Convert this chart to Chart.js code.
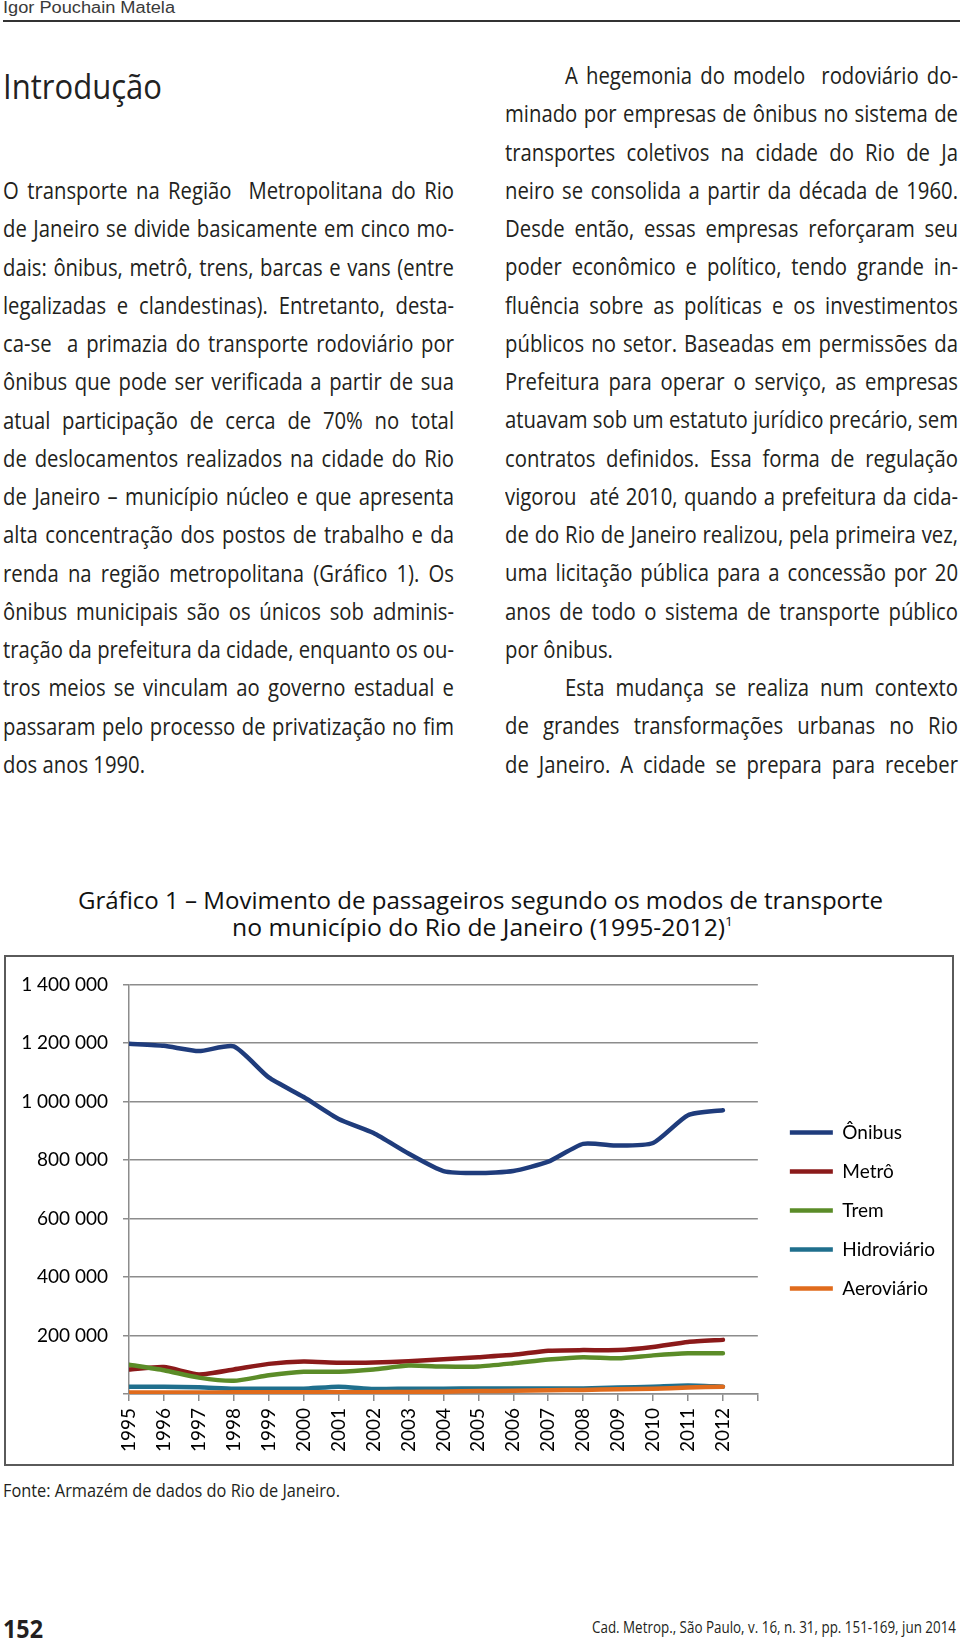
<!DOCTYPE html>
<html lang="pt-BR">
<head>
<meta charset="utf-8">
<title>Gráfico 1 – Movimento de passageiros</title>
<script src="https://cdn.jsdelivr.net/npm/chart.js@4.4.1/dist/chart.umd.min.js"></script>
<style>
  html, body { margin: 0; padding: 0; background: #fff; }
  body { position: relative; width: 960px; height: 1641px; overflow: hidden; color: #231f20; }
  .narrow { font-family: "Open Sans", "Noto Sans", sans-serif; }
  .fit { display: inline-block; white-space: pre; transform-origin: 0 0; }
  #author { position: absolute; left: 3px; top: 0; font: 16px/16px "Liberation Sans", Arial, sans-serif; color: #3a3a3a; }
  #rule { position: absolute; left: 3px; top: 19.5px; width: 957px; border-top: 2px solid #333; }
  #intro { position: absolute; left: 3px; top: 68px; font-size: 35px; line-height: 35px; color: #222; }
  .col { position: absolute; font-size: 23.5px; line-height: 38.25px; transform-origin: 0 0; }
  .col div { height: 38.25px; white-space: pre; }
  #left { left: 3px; top: 171px; width: 451px; }
  #right { left: 505px; top: 56px; width: 453px; }
  .tl { position: absolute; font: 23px/27px "Open Sans", sans-serif; color: #111; }
  .tl sup { font-size: 13px; vertical-align: 10px; line-height: 0; }
  #frame { position: absolute; left: 4px; top: 955px; width: 946px; height: 507px; border: 2px solid #5a5a5a; }
  #box { position: absolute; left: 7px; top: 958px; width: 944px; height: 505px; }
  #source { position: absolute; left: 3px; top: 1479px; font-size: 18px; line-height: 22px; }
  #page { position: absolute; left: 3px; top: 1613px; font-size: 25px; line-height: 30px; font-weight: bold; }
  #cite { position: absolute; left: 592px; top: 1616px; font-size: 17px; line-height: 22px; }
</style>
</head>
<body>
<div id="author" class="fit" data-w="172">Igor Pouchain Matela</div>
<div id="rule"></div>
<div id="intro" class="narrow fit" data-w="159">Introdução</div>

<div id="left" class="col narrow" data-w="451">
  <div class="j"><span>O transporte na Região  Metropolitana do Rio</span></div>
  <div class="j"><span>de Janeiro se divide basicamente em cinco mo-</span></div>
  <div class="j"><span>dais: ônibus, metrô, trens, barcas e vans (entre</span></div>
  <div class="j"><span>legalizadas e clandestinas). Entretanto, desta-</span></div>
  <div class="j"><span>ca-se  a primazia do transporte rodoviário por</span></div>
  <div class="j"><span>ônibus que pode ser verificada a partir de sua</span></div>
  <div class="j"><span>atual participação de cerca de 70% no total</span></div>
  <div class="j"><span>de deslocamentos realizados na cidade do Rio</span></div>
  <div class="j"><span>de Janeiro – município núcleo e que apresenta</span></div>
  <div class="j"><span>alta concentração dos postos de trabalho e da</span></div>
  <div class="j"><span>renda na região metropolitana (Gráfico 1). Os</span></div>
  <div class="j"><span>ônibus municipais são os únicos sob adminis-</span></div>
  <div class="j"><span>tração da prefeitura da cidade, enquanto os ou-</span></div>
  <div class="j"><span>tros meios se vinculam ao governo estadual e</span></div>
  <div class="j"><span>passaram pelo processo de privatização no fim</span></div>
  <div><span>dos anos 1990.</span></div>
</div>

<div id="right" class="col narrow" data-w="453">
  <div class="j in"><span>A hegemonia do modelo  rodoviário do-</span></div>
  <div class="j"><span>minado por empresas de ônibus no sistema de</span></div>
  <div class="j"><span>transportes coletivos na cidade do Rio de Ja</span></div>
  <div class="j"><span>neiro se consolida a partir da década de 1960.</span></div>
  <div class="j"><span>Desde então, essas empresas reforçaram seu</span></div>
  <div class="j"><span>poder econômico e político, tendo grande in-</span></div>
  <div class="j"><span>fluência sobre as políticas e os investimentos</span></div>
  <div class="j"><span>públicos no setor. Baseadas em permissões da</span></div>
  <div class="j"><span>Prefeitura para operar o serviço, as empresas</span></div>
  <div class="j"><span>atuavam sob um estatuto jurídico precário, sem</span></div>
  <div class="j"><span>contratos definidos. Essa forma de regulação</span></div>
  <div class="j"><span>vigorou  até 2010, quando a prefeitura da cida-</span></div>
  <div class="j"><span>de do Rio de Janeiro realizou, pela primeira vez,</span></div>
  <div class="j"><span>uma licitação pública para a concessão por 20</span></div>
  <div class="j"><span>anos de todo o sistema de transporte público</span></div>
  <div><span>por ônibus.</span></div>
  <div class="j in"><span>Esta mudança se realiza num contexto</span></div>
  <div class="j"><span>de grandes transformações urbanas no Rio</span></div>
  <div class="j"><span>de Janeiro. A cidade se prepara para receber</span></div>
</div>

<div class="tl fit" style="left:78px; top:887px" data-w="805">Gráfico 1 – Movimento de passageiros segundo os modos de transporte</div>
<div class="tl fit" style="left:232px; top:914px" data-w="501">no município do Rio de Janeiro (1995-2012)<sup>1</sup></div>
<div id="frame"></div>
<div id="box"><canvas id="chart"></canvas></div>

<div id="source" class="narrow fit" data-w="337">Fonte: Armazém de dados do Rio de Janeiro.</div>
<div id="page" class="narrow fit" data-w="40">152</div>
<div id="cite" class="narrow fit" data-w="364">Cad. Metrop., São Paulo, v. 16, n. 31, pp. 151-169, jun 2014</div>

<script>
// passageiros por ano
const years = [1995, 1996, 1997, 1998, 1999, 2000, 2001, 2002, 2003, 2004, 2005, 2006, 2007, 2008, 2009, 2010, 2011, 2012]
const onibus = [1197000, 1190000, 1172000, 1188000, 1082000, 1015000, 940000, 892000, 822000, 762000, 755000, 762000, 794000, 855000, 849000, 858000, 953000, 970000]
const metro = [84000, 92000, 67000, 84000, 103000, 111000, 107000, 108000, 112000, 119000, 126000, 134000, 148000, 150000, 150000, 161000, 178000, 185000]
const trem = [100000, 81000, 56000, 45000, 64000, 76000, 76000, 84000, 97000, 94000, 94000, 105000, 118000, 126000, 122000, 132000, 139000, 139000]
const hidroviario = [25000, 25000, 23000, 18000, 18000, 18000, 25000, 17000, 18000, 18000, 19000, 19000, 19000, 19000, 22000, 25000, 29000, 25000]
const aeroviario = [5000, 5000, 5000, 6000, 6000, 6000, 6000, 6000, 7000, 8000, 10000, 11000, 13000, 14000, 16000, 18000, 22000, 25000]

const yTicks = [0, 200000, 400000, 600000, 800000, 1000000, 1200000, 1400000]
const yTickLabels = ['', '200 000', '400 000', '600 000', '800 000', '1 000 000', '1 200 000', '1 400 000']

// squeeze single-line texts to the printed width
document.querySelectorAll('.fit').forEach(el => {
  let w = el.getBoundingClientRect().width
  el.style.transform = 'scaleX(' + (parseFloat(el.dataset.w) / w) + ')'
})

// columns: one common horizontal squeeze, then justify every printed line
document.querySelectorAll('.col').forEach(col => {
  let w = parseFloat(col.dataset.w)
  let lines = Array.from(col.querySelectorAll('.j'))
  let natural = lines.map(line => line.querySelector('span').getBoundingClientRect().width)
  let k = Infinity
  lines.forEach((line, i) => {
    let indent = line.classList.contains('in') ? 60 : 0
    k = Math.min(k, (w - indent) / natural[i])
  })
  col.style.width = (w / k) + 'px'
  col.style.transform = 'scaleX(' + k + ')'
  lines.forEach((line, i) => {
    let span = line.querySelector('span')
    let indent = line.classList.contains('in') ? 60 / k : 0
    if (indent) line.style.paddingLeft = indent + 'px'
    let gaps = (span.textContent.match(/ /g) || []).length
    if (gaps) span.style.wordSpacing = ((w / k - indent - natural[i]) / gaps) + 'px'
  })
})

Chart.defaults.font.family = 'Lato, sans-serif'
Chart.defaults.font.size = 19
Chart.defaults.color = '#000'

const gridGray = '#8c8c8c'

function series(label, data, color, order) {
  return {
    label: label,
    data: data,
    borderColor: color,
    backgroundColor: color,
    borderWidth: 4.5,
    borderCapStyle: 'round',
    borderJoinStyle: 'round',
    pointRadius: 0,
    tension: 0.2,
    fill: false,
    order: order
  }
}

// empty axes used only as spacers (top of plot, gap before legend)
function spacer(position, size) {
  return {
    type: 'linear',
    position: position,
    afterFit: s => { if (s.isHorizontal()) s.height = size; else s.width = size },
    ticks: { display: false },
    grid: { display: false },
    border: { display: false }
  }
}

let ctx = document.getElementById('chart').getContext('2d')
let myChart = new Chart(ctx, {
  type: 'line',
  data: {
    labels: years,
    datasets: [
      series('Ônibus', onibus, '#1f3c7c', 5),
      series('Metrô', metro, '#8b1a1a', 4),
      series('Trem', trem, '#5b8c28', 3),
      series('Hidroviário', hidroviario, '#1f6f8d', 2),
      series('Aeroviário', aeroviario, '#e06b1c', 1)
    ]
  },
  options: {
    responsive: true,
    maintainAspectRatio: false,
    animation: false,
    layout: { padding: { left: 10, top: 0, right: 6, bottom: 0 } },
    scales: {
      x: {
        type: 'linear',
        min: 1995,
        max: 2013,
        afterFit: s => { s.height = 69 },
        ticks: {
          stepSize: 1,
          autoSkip: false,
          minRotation: 90,
          maxRotation: 90,
          padding: 7,
          callback: v => years.includes(v) ? String(v) : ''
        },
        grid: { drawOnChartArea: false, color: gridGray, lineWidth: 1.5, tickLength: 7 },
        border: { color: gridGray, width: 1.5 }
      },
      y: {
        min: 0,
        max: 1400000,
        afterFit: s => { s.width = 112 },
        afterBuildTicks: s => { s.ticks = yTicks.map(v => ({ value: v })) },
        ticks: {
          padding: 15,
          callback: v => yTickLabels[yTicks.indexOf(v)]
        },
        grid: { color: gridGray, lineWidth: 1.5, tickLength: 6 },
        border: { color: gridGray, width: 1.5 }
      },
      topGap: spacer('top', 20),
      gap: spacer('right', 12)
    },
    plugins: {
      legend: {
        position: 'right',
        reverse: true,
        maxWidth: 300,
        labels: {
          usePointStyle: true,
          pointStyle: 'line',
          pointStyleWidth: 43,
          padding: 20,
          color: '#000',
          font: { size: 19 }
        }
      },
      tooltip: { enabled: false }
    }
  }
})
</script>
</body>
</html>
